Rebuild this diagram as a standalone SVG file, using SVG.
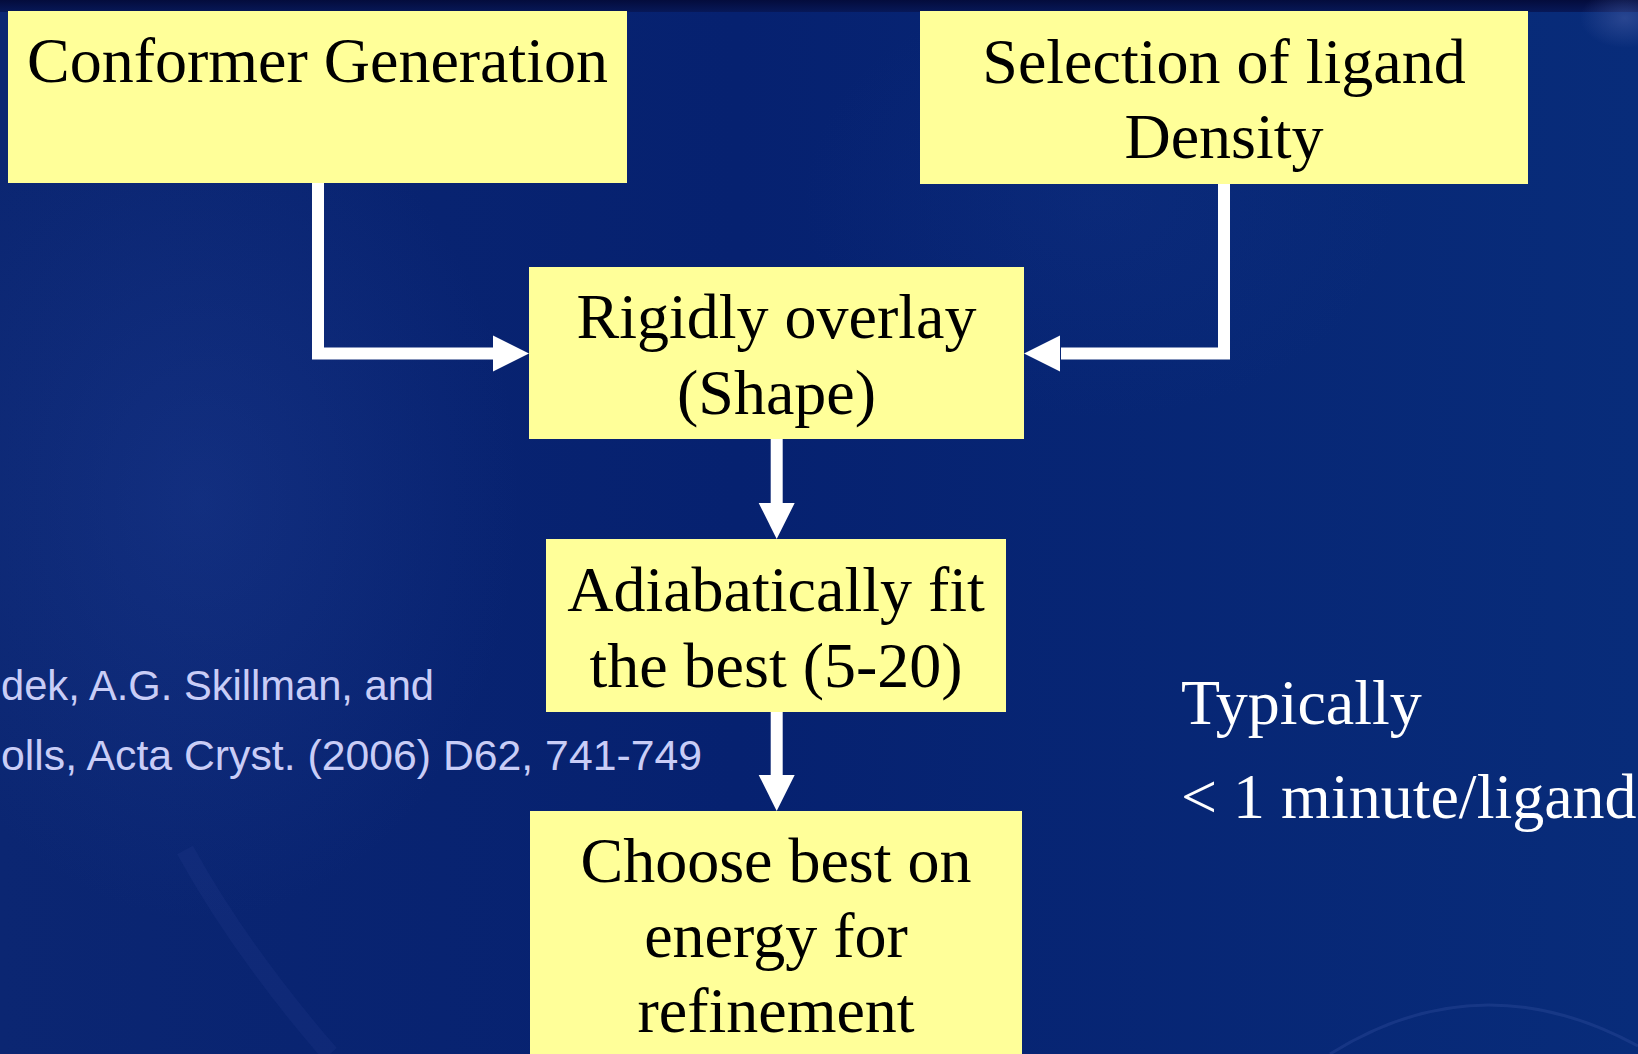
<svg xmlns="http://www.w3.org/2000/svg" width="1638" height="1054" viewBox="0 0 1638 1054">
  <defs>
    <linearGradient id="bg" x1="0" y1="0" x2="1" y2="0">
      <stop offset="0" stop-color="#0b2672"/>
      <stop offset="0.45" stop-color="#062170"/>
      <stop offset="1" stop-color="#082c7a"/>
    </linearGradient>
    <linearGradient id="topband" x1="0" y1="0" x2="0" y2="1">
      <stop offset="0" stop-color="#040c3c"/>
      <stop offset="1" stop-color="#071858"/>
    </linearGradient>
    <radialGradient id="glowL" cx="0.5" cy="0.5" r="0.5">
      <stop offset="0" stop-color="#2646a0" stop-opacity="0.3"/>
      <stop offset="1" stop-color="#2646a0" stop-opacity="0"/>
    </radialGradient>
    <radialGradient id="glowTR" cx="0.5" cy="0.5" r="0.5">
      <stop offset="0" stop-color="#4a60a8" stop-opacity="0.5"/>
      <stop offset="1" stop-color="#4a60a8" stop-opacity="0"/>
    </radialGradient>
  </defs>
  <style>
    .box { fill: #ffff99; }
    .lbl { font-family: "Liberation Serif", "Times New Roman", serif; font-size: 64px; fill: #000000; text-anchor: middle; }
    .note { font-family: "Liberation Serif", "Times New Roman", serif; font-size: 64px; fill: #ffffff; }
    .cite { font-family: "Liberation Sans", Arial, sans-serif; font-size: 42.5px; fill: #c9cdf7; }
    .conn { fill: none; stroke: #ffffff; stroke-width: 12; stroke-linejoin: miter; }
    .head { fill: #ffffff; }
  </style>

  <!-- background -->
  <rect x="0" y="0" width="1638" height="1054" fill="url(#bg)"/>
  <ellipse cx="200" cy="500" rx="320" ry="420" fill="url(#glowL)"/>
  <ellipse cx="1100" cy="200" rx="300" ry="220" fill="url(#glowL)" opacity="0.4"/>
  <rect x="0" y="0" width="1638" height="12" fill="url(#topband)"/>
  <ellipse cx="1625" cy="18" rx="45" ry="30" fill="url(#glowTR)"/>
  <path d="M185,850 Q240,950 330,1054" fill="none" stroke="#2a4494" stroke-width="18" stroke-opacity="0.18"/>
  <path d="M1330,1054 Q1480,960 1638,1046" fill="none" stroke="#3a55a5" stroke-width="3" stroke-opacity="0.3"/>

  <!-- connectors -->
  <g id="connectors">
    <path class="conn" d="M318,183 V353.5 H494"/>
    <polygon class="head" points="493,335.5 529,353.5 493,371.5"/>
    <path class="conn" d="M1224,184 V353.5 H1061"/>
    <polygon class="head" points="1060,335.5 1024,353.5 1060,371.5"/>
    <path class="conn" d="M776.7,439 V504"/>
    <polygon class="head" points="758.7,503 794.7,503 776.7,539"/>
    <path class="conn" d="M776.7,712 V776"/>
    <polygon class="head" points="758.7,775 794.7,775 776.7,811"/>
  </g>

  <!-- nodes -->
  <g id="conformer-generation">
    <rect class="box" x="8" y="11" width="619" height="172"/>
    <text class="lbl" x="317.5" y="82">Conformer Generation</text>
  </g>
  <g id="selection-of-ligand-density">
    <rect class="box" x="920" y="11" width="608" height="173"/>
    <text class="lbl" x="1224" y="82.5">Selection of ligand</text>
    <text class="lbl" x="1224" y="158">Density</text>
  </g>
  <g id="rigidly-overlay">
    <rect class="box" x="529" y="267" width="495" height="172"/>
    <text class="lbl" x="776.5" y="338">Rigidly overlay</text>
    <text class="lbl" x="776.5" y="414">(Shape)</text>
  </g>
  <g id="adiabatically-fit">
    <rect class="box" x="546" y="539" width="460" height="173"/>
    <text class="lbl" x="776" y="610.5">Adiabatically fit</text>
    <text class="lbl" x="776" y="686.5">the best (5-20)</text>
  </g>
  <g id="choose-best">
    <rect class="box" x="530" y="811" width="492" height="250"/>
    <text class="lbl" x="776" y="881.5">Choose best on</text>
    <text class="lbl" x="776" y="956.5">energy for</text>
    <text class="lbl" x="776" y="1031.5">refinement</text>
  </g>

  <!-- side texts -->
  <g id="timing-note">
    <text class="note" x="1181" y="724">Typically</text>
    <text class="note" x="1181" y="818">&lt; 1 minute/ligand</text>
  </g>
  <g id="citation">
    <text class="cite" x="1" y="700" textLength="433" lengthAdjust="spacingAndGlyphs">dek, A.G. Skillman, and</text>
    <text class="cite" x="1" y="770" textLength="701" lengthAdjust="spacingAndGlyphs">olls, Acta Cryst. (2006) D62, 741-749</text>
  </g>
</svg>
